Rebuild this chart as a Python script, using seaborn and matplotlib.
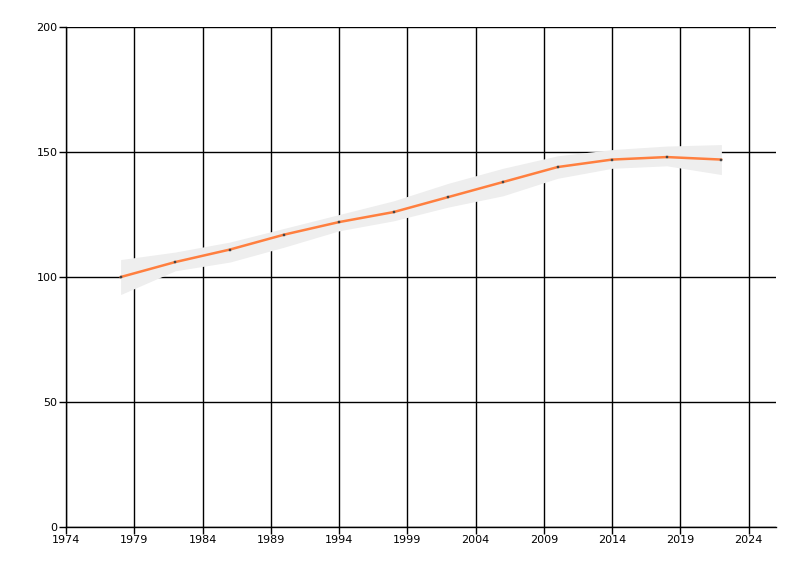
import matplotlib
matplotlib.use("Agg")
import matplotlib.pyplot as plt
import seaborn as sns
import pandas as pd

years = [1978, 1982, 1986, 1990, 1994, 1998, 2002, 2006, 2010, 2014, 2018, 2022]
values = [100, 106, 111, 117, 122, 126, 132, 138, 144, 147, 148, 147]
upper = [107, 110, 114, 119.5, 125, 130.5, 137.5, 143.5, 148.5, 151, 152.4, 153]
lower = [93, 102.5, 106, 112, 118.5, 122.5, 128, 132.5, 139.5, 143.5, 144.5, 141]
x_ticks = [1974, 1979, 1984, 1989, 1994, 1999, 2004, 2009, 2014, 2019, 2024]
y_ticks = [0, 50, 100, 150, 200]

df = pd.DataFrame({"year": years, "value": values, "upper": upper, "lower": lower})

sns.set_style("white")
plt.rcParams['font.family'] = ['DejaVu Sans']

fig = plt.figure(figsize=(8, 5.76), dpi=100)
ax = fig.add_axes([0.0825, 0.085, 0.8875, 0.868])

ax.fill_between(df["year"], df["lower"], df["upper"], color="#EEEEEE", linewidth=0, zorder=1)
sns.lineplot(data=df, x="year", y="value", ax=ax, color="#FF7F3F", linewidth=1.8,
             marker="s", markersize=1.6, markerfacecolor="#444444", markeredgecolor="#444444",
             markeredgewidth=0.3, zorder=3)

ax.set_xlim(1974, 2026)
ax.set_ylim(0, 200)
ax.set_xticks(x_ticks)
ax.set_yticks(y_ticks)
ax.set_xticklabels([str(t) for t in x_ticks])
ax.set_yticklabels([str(t) for t in y_ticks])
ax.grid(True, color="black", linewidth=1.0, zorder=0)
ax.set_axisbelow(True)
ax.set_xlabel("")
ax.set_ylabel("")
for s in ["top", "right"]:
    ax.spines[s].set_visible(False)
for s in ["left", "bottom"]:
    ax.spines[s].set_color("black")
    ax.spines[s].set_linewidth(1.0)
ax.tick_params(axis="both", direction="out", length=5, width=1, color="black",
               labelsize=8, labelcolor="black", pad=1, left=True, bottom=True)

fig.savefig("out.png", dpi=100)
